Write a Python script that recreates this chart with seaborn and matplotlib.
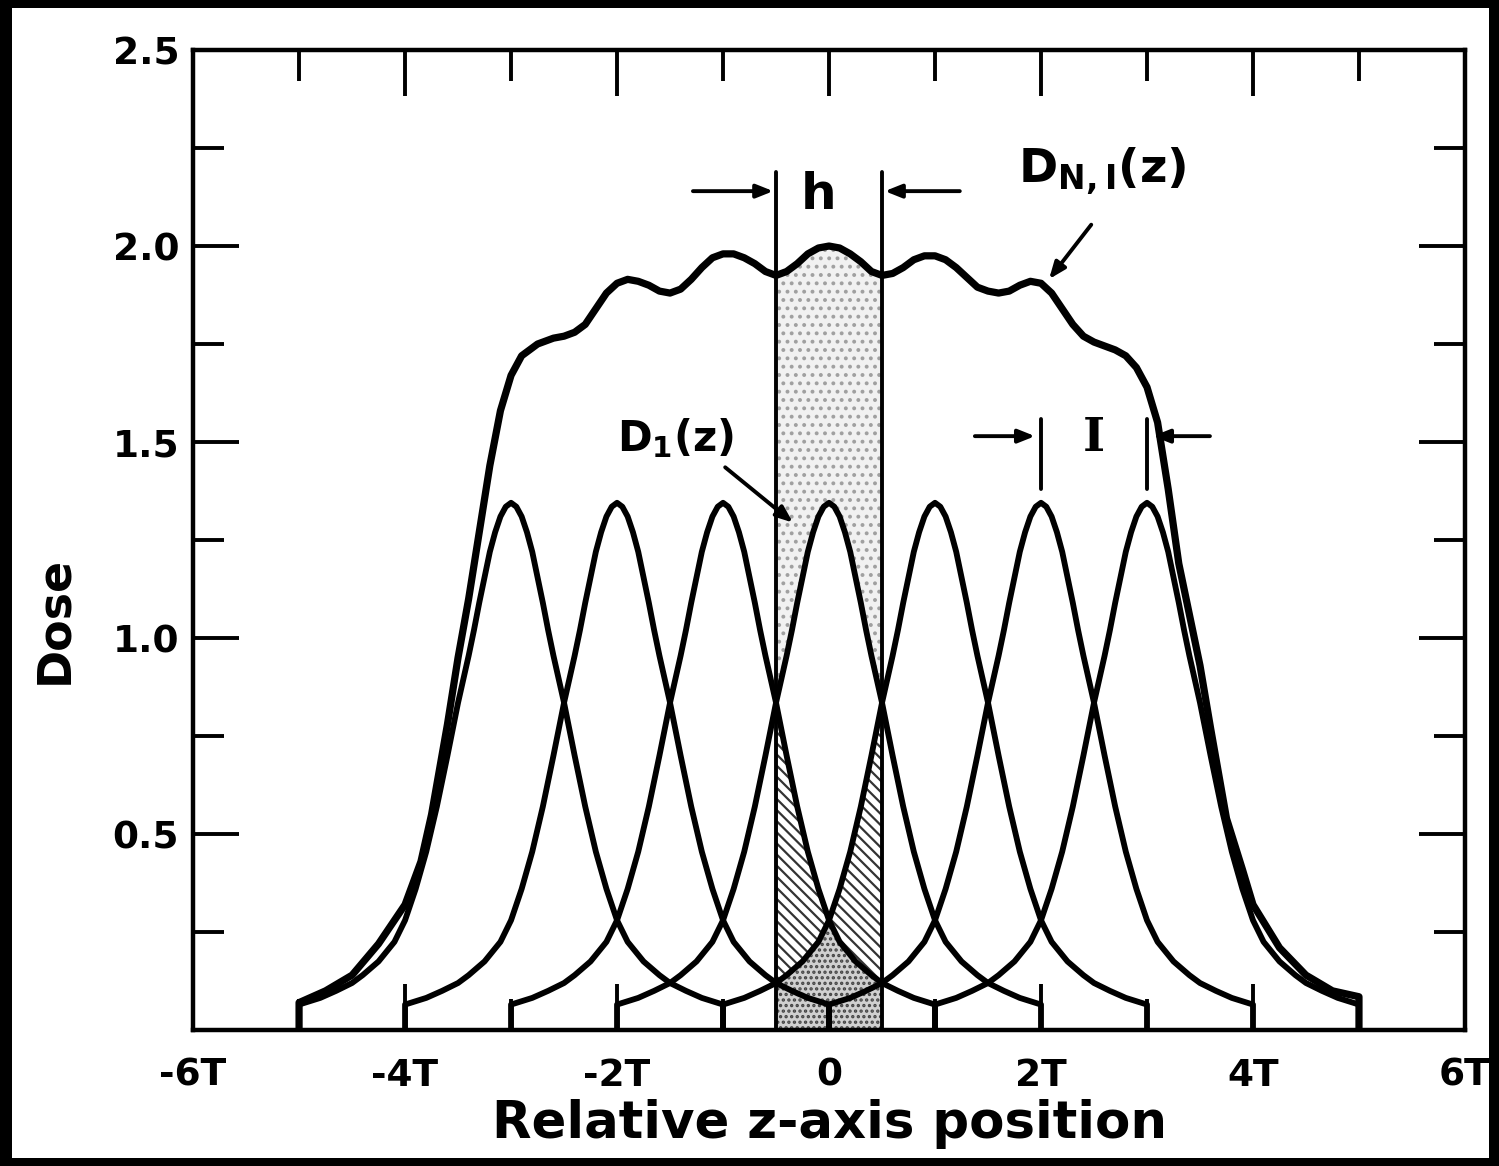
import numpy as np
import pandas as pd
import matplotlib
matplotlib.use("Agg")
import matplotlib.pyplot as plt
import matplotlib.ticker as mticker
from matplotlib.patches import Rectangle
import seaborn as sns

# single-slice dose profile D1(z) (offset in units of T)
kernel_offset = [0.0, 0.05, 0.1, 0.15, 0.2, 0.25, 0.3, 0.35, 0.4, 0.45, 0.5,
                 0.6, 0.7, 0.8, 0.9, 1.0, 1.1, 1.25, 1.4, 1.5, 1.65, 1.8, 2.0]
kernel_dose = [1.345, 1.335, 1.31, 1.27, 1.22, 1.155, 1.09, 1.02, 0.955, 0.895, 0.835,
               0.70, 0.57, 0.455, 0.36, 0.28, 0.225, 0.175, 0.14, 0.12, 0.10, 0.082, 0.065]
slice_centres = [-3, -2, -1, 0, 1, 2, 3]

# multiple scan dose profile D_N,I(z)
sum_z = [-5.0, -4.75, -4.5, -4.25, -4.0, -3.85, -3.75, -3.6, -3.5, -3.4, -3.3, -3.2,
         -3.1, -3.0, -2.9, -2.75, -2.6,
         -2.5, -2.4, -2.3, -2.2, -2.1, -2.0, -1.9, -1.8, -1.7, -1.6, -1.5, -1.4, -1.3,
         -1.2, -1.1, -1.0, -0.9, -0.8, -0.7, -0.6, -0.5, -0.4, -0.3, -0.2, -0.1, 0.0,
         0.1, 0.2, 0.3, 0.4, 0.5, 0.6, 0.7, 0.8, 0.9, 1.0, 1.1, 1.2, 1.3, 1.4, 1.5,
         1.6, 1.7, 1.8, 1.9, 2.0, 2.1, 2.2, 2.3, 2.4, 2.5, 2.6, 2.7, 2.8, 2.9, 3.0,
         3.1, 3.2, 3.3, 3.4, 3.5, 3.6, 3.75, 3.9, 4.0, 4.25, 4.5, 4.75, 5.0]
sum_dose = [0.07, 0.10, 0.14, 0.22, 0.32, 0.43, 0.55, 0.78, 0.95, 1.10, 1.27, 1.44,
            1.58, 1.67, 1.72, 1.75, 1.765,
            1.77, 1.78, 1.80, 1.84, 1.88, 1.905, 1.915, 1.91, 1.90, 1.885, 1.88, 1.89, 1.915,
            1.945, 1.97, 1.98, 1.98, 1.97, 1.955, 1.935, 1.925, 1.935, 1.955, 1.98, 1.995, 2.0,
            1.995, 1.98, 1.96, 1.935, 1.925, 1.93, 1.945, 1.965, 1.975, 1.975, 1.965, 1.945, 1.92, 1.895, 1.885,
            1.88, 1.885, 1.90, 1.91, 1.905, 1.88, 1.84, 1.80, 1.77, 1.755, 1.745, 1.735, 1.72, 1.69, 1.64,
            1.55, 1.38, 1.19, 1.06, 0.93, 0.77, 0.54, 0.41, 0.32, 0.21, 0.14, 0.10, 0.085]

x_ticks = [-6, -4, -2, 0, 2, 4, 6]
x_tick_labels = ["-6T", "-4T", "-2T", "0", "2T", "4T", "6T"]
y_ticks = [0.5, 1.0, 1.5, 2.0, 2.5]
y_tick_labels = ["0.5", "1.0", "1.5", "2.0", "2.5"]
slab = (-0.5, 0.5)

sns.set_style("white")
plt.rcParams["font.family"] = ["DejaVu Sans"]
plt.rcParams["hatch.linewidth"] = 1.6
for key in ["text.color", "axes.labelcolor", "xtick.color", "ytick.color", "axes.edgecolor"]:
    plt.rcParams[key] = "black"

fig = plt.figure(figsize=(14.99, 11.66), dpi=100)
fig.patch.set_facecolor("black")
fig.add_artist(Rectangle((0.008, 0.007), 0.985, 0.986, transform=fig.transFigure,
                         facecolor="white", edgecolor="none", zorder=-5))
ax = fig.add_axes([0.1288, 0.1166, 0.8485, 0.8405])
ax.set_facecolor("white")

# full symmetric kernel, with a vertical drop at both cut-off ends
off = np.array(kernel_offset)
kd = np.array(kernel_dose)
k_x = np.concatenate([[-off[-1]], -off[::-1], off[1:], [off[-1]]])
k_y = np.concatenate([[0.0], kd[::-1], kd[1:], [0.0]])
kernels = pd.concat(
    [pd.DataFrame({"z": c + k_x, "dose": k_y, "slice": c}) for c in slice_centres],
    ignore_index=True)

sz = np.array(sum_z)
sd = np.array(sum_dose)


def kernel_part(c, lo, hi):
    d = kernels[(kernels["slice"] == c) & (kernels["z"] >= lo - 1e-9)
                & (kernels["z"] <= hi + 1e-9) & (kernels["dose"] > 0)]
    return d["z"], d["dose"]


# --- shaded slab of width h ---
in_slab = (sz >= slab[0] - 1e-9) & (sz <= slab[1] + 1e-9)
ax.fill_between(sz[in_slab], 0, sd[in_slab], facecolor="#f1f1f1", edgecolor="#a0a0a0",
                hatch="..", linewidth=0, zorder=1)
zx, zy = kernel_part(0, *slab)
ax.fill_between(zx, 0, zy, facecolor="white", linewidth=0, zorder=1.5)
for c in [-1, 1]:
    zx, zy = kernel_part(c, *slab)
    ax.fill_between(zx, 0, zy, facecolor="white", edgecolor="#333333",
                    hatch="\\\\\\", linewidth=0, zorder=2)
for c, lo, hi in [(1, slab[0], 0.0), (-1, 0.0, slab[1])]:
    zx, zy = kernel_part(c, lo, hi)
    ax.fill_between(zx, 0, zy, facecolor="#d0d0d0", edgecolor="#444444",
                    hatch="...", linewidth=0, zorder=2.5)

# --- curves ---
for c in slice_centres:
    d = kernels[kernels["slice"] == c]
    sns.lineplot(data=d, x="z", y="dose", estimator=None, sort=False, color="black",
                 linewidth=4.2, ax=ax, zorder=4)
sum_df = pd.DataFrame({"z": np.concatenate([[sz[0]], sz, [sz[-1]]]),
                       "dose": np.concatenate([[0.0], sd, [0.0]])})
sns.lineplot(data=sum_df, x="z", y="dose", estimator=None, sort=False, color="black",
             linewidth=5.2, ax=ax, zorder=5)

# --- annotations ---
lw_ann = 2.8
for xv in slab:
    ax.plot([xv, xv], [0, 2.19], color="black", linewidth=lw_ann, zorder=6)
arrow_kw = dict(arrowstyle="-|>,head_length=1.0,head_width=0.4", color="black", lw=lw_ann)
ax.annotate("", xy=(slab[0], 2.14), xytext=(-1.31, 2.14), arrowprops=arrow_kw)
ax.annotate("", xy=(slab[1], 2.14), xytext=(1.26, 2.14), arrowprops=arrow_kw)
ax.text(-0.1, 2.13, "h", fontsize=36, fontweight="bold", ha="center", va="center")

ax.text(2.58, 2.19, r"$\mathbf{D_{N,I}(z)}$", fontsize=34, ha="center", va="center")
ax.annotate("", xy=(2.06, 1.91), xytext=(2.49, 2.06), arrowprops=arrow_kw)

ax.text(-1.45, 1.51, r"$\mathbf{D_1(z)}$", fontsize=30, ha="center", va="center")
ax.annotate("", xy=(-0.32, 1.29), xytext=(-1.0, 1.44), arrowprops=arrow_kw)

for xv in [2, 3]:
    ax.plot([xv, xv], [1.38, 1.56], color="black", linewidth=lw_ann, zorder=6)
ax.annotate("", xy=(1.97, 1.515), xytext=(1.35, 1.515), arrowprops=arrow_kw)
ax.annotate("", xy=(3.03, 1.515), xytext=(3.62, 1.515), arrowprops=arrow_kw)
ax.text(2.5, 1.51, "I", fontsize=34, fontweight="bold", family="DejaVu Serif",
        ha="center", va="center")

# --- axes ---
ax.set_xlim(-6, 6)
ax.set_ylim(0, 2.5)
ax.set_xticks(x_ticks)
ax.set_xticklabels(x_tick_labels)
ax.set_yticks(y_ticks)
ax.set_yticklabels(y_tick_labels)
ax.xaxis.set_minor_locator(mticker.MultipleLocator(1))
ax.yaxis.set_minor_locator(mticker.MultipleLocator(0.25))
ax.tick_params(which="both", direction="in", top=True, right=True, bottom=True, left=True,
               width=2.8, color="black")
ax.tick_params(which="major", length=33, labelsize=27)
ax.tick_params(which="minor", length=22)
ax.tick_params(axis="x", which="major", pad=20)
ax.tick_params(axis="y", which="major", pad=10)
for lab in ax.get_xticklabels() + ax.get_yticklabels():
    lab.set_fontweight("bold")
for sp in ax.spines.values():
    sp.set_visible(True)
    sp.set_linewidth(3.2)
    sp.set_color("black")
ax.set_xlabel("Relative z-axis position", fontsize=37, fontweight="bold", labelpad=4)
ax.set_ylabel("Dose", fontsize=33, fontweight="bold")
ax.yaxis.set_label_coords(-0.091, 0.418)

fig.savefig("out.png", dpi=100, facecolor=fig.get_facecolor())
